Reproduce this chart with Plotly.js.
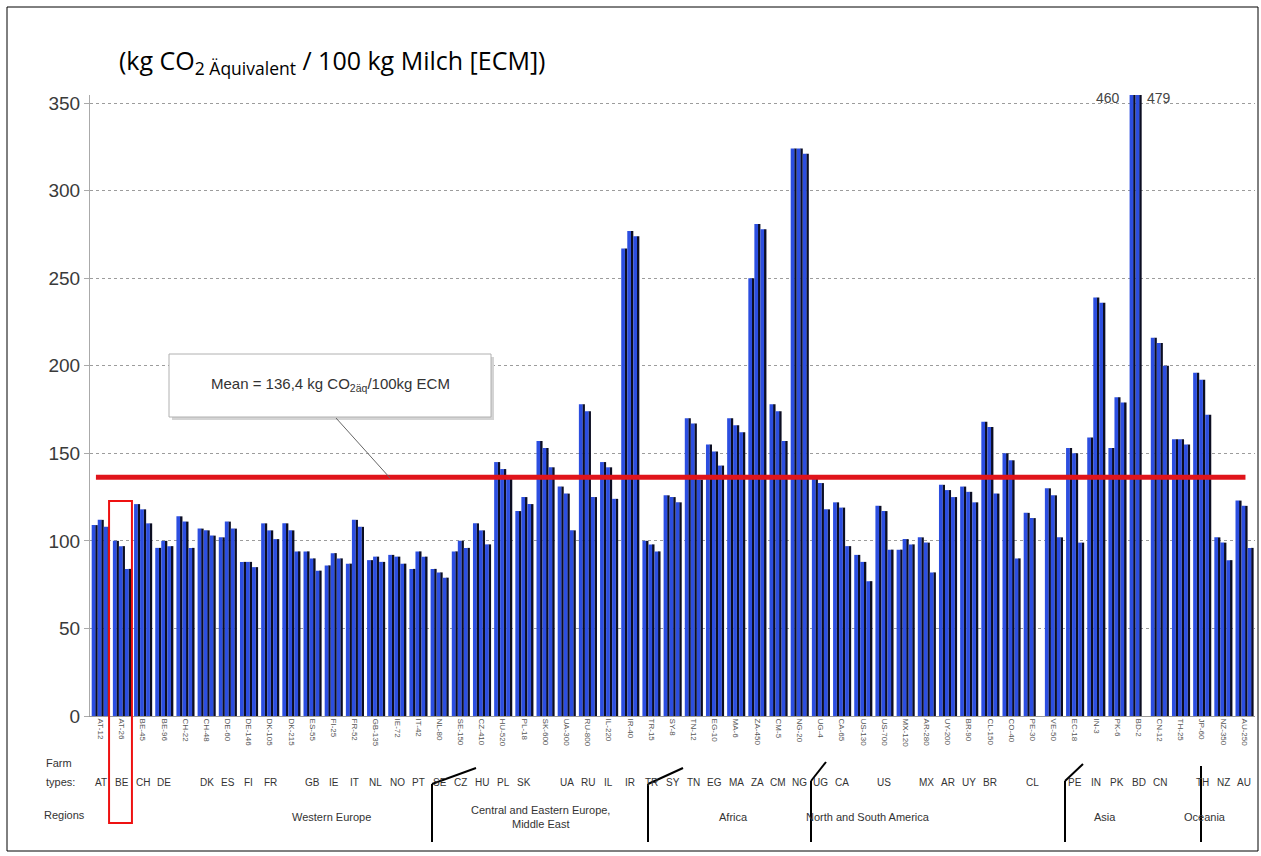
<!DOCTYPE html>
<html><head><meta charset="utf-8">
<script src="https://cdn.plot.ly/plotly-3.0.1.min.js"></script>
<style>html,body{margin:0;padding:0;background:#fff}#chart{width:1261px;height:856px}</style>
</head><body><div id="chart"></div>
<script>
// ---- data ----
const farmIds = [
 "AT-12","AT-26","BE-45","BE-96","CH-22","CH-48","DE-60","DE-146","DK-105","DK-215",
 "ES-55","FI-25","FR-52","GB-135","IE-72","IT-42","NL-80","SE-150",
 "CZ-410","HU-520","PL-18","SK-600","UA-300","RU-800","IL-220","IR-40","TR-15","SY-8",
 "TN-12","EG-10","MA-6","ZA-450","CM-5","NG-20","UG-4",
 "CA-65","US-130","US-700","MX-120","AR-280","UY-200","BR-90","CL-150","CO-40","PE-30","VE-50","EC-18",
 "IN-3","PK-6","BD-2","CN-12","TH-25","JP-60",
 "NZ-350","AU-250"
];
const farmTypeA = [109,100,121,96,114,107,102,88,110,110,94,86,87,89,92,84,84,94,
  110,145,117,157,131,178,145,267,100,126,
  170,155,170,250,178,324,137,
  122,92,120,95,102,132,131,168,150,116,130,153,
  159,153,460,216,158,196,
  102,123];
const farmTypeB = [112,97,118,100,111,106,111,88,106,106,90,93,112,91,91,94,82,100,
  106,141,125,153,127,174,142,277,98,125,
  167,151,166,281,174,324,133,
  119,88,117,101,99,129,128,165,146,113,126,150,
  239,182,479,213,158,192,
  99,120];
const farmTypeC = [108,84,110,97,96,103,107,85,101,94,83,90,108,88,87,91,79,96,
  98,137,121,142,106,125,124,274,94,122,
  135,143,162,278,157,321,118,
  97,77,95,98,82,125,122,127,90,null,102,99,
  236,179,null,200,155,172,
  89,96];
const farmTypeCodes = ["AT","BE","CH","DE","","DK","ES","FI","FR","","GB","IE","IT","NL","NO","PT","SE","CZ",
  "HU","PL","SK","","UA","RU","IL","IR","TR","SY",
  "TN","EG","MA","ZA","CM","NG","UG",
  "CA","","US","","MX","AR","UY","BR","","CL","","PE",
  "IN","PK","BD","CN","","TH",
  "NZ","AU"];
const regionNames = ["Western Europe","Central and Eastern Europe,<br>Middle East","Africa","North and South America","Asia","Oceania"];
const regionCenterPx = [290,540,733,932,1118,1228];
const meanValue = 136.4;
const outlierLabels = ["460","479"];
const yTickVals = [0,50,100,150,200,250,300,350];
</script>
<script>
// ---- geometry helpers (plot area in pixels) ----
const W=1261,H=856,L=90,R=1255,T=95,B=716;
const px=x=>(x-L)/(R-L);
const py=y=>(B-y)/(B-T);
const ids = farmIds;
const series=[farmTypeA,farmTypeB,farmTypeC];
const slot=0.285, start=-0.42, blueW=0.175, darkW=0.12;
const traces=[];
series.forEach((vals,s)=>{
  const o=start+s*slot;
  traces.push({type:'bar',x:ids,y:vals,offset:o+blueW-0.01,width:darkW,
    marker:{color:'#0c0e22',line:{width:0}},hoverinfo:'skip',showlegend:false});
  traces.push({type:'bar',x:ids,y:vals,offset:o,width:blueW,
    marker:{color:'#2c4ee0',line:{width:0}},showlegend:false});
});

const shapes=[];
const annotations=[];
// frame
shapes.push({type:'rect',xref:'paper',yref:'paper',x0:px(7),x1:px(1258),y0:py(7),y1:py(851),line:{color:'#000',width:1},fillcolor:'rgba(0,0,0,0)',layer:'below'});
// mean line
shapes.push({type:'line',xref:'x',yref:'y',x0:-0.22,x1:54.05,y0:meanValue,y1:meanValue,line:{color:'#e0141b',width:5}});
// mean box + pointer
shapes.push({type:'rect',xref:'paper',yref:'paper',x0:px(172),x1:px(494),y0:py(357),y1:py(420),line:{width:0},fillcolor:'#d4d4d4'});
shapes.push({type:'rect',xref:'paper',yref:'paper',x0:px(169),x1:px(491),y0:py(354),y1:py(417),line:{color:'#b0b0b0',width:1},fillcolor:'#ffffff'});
shapes.push({type:'line',xref:'paper',yref:'paper',x0:px(336),y0:py(418),x1:px(390),y1:py(478),line:{color:'#666',width:1}});
// red highlight box
shapes.push({type:'rect',xref:'x',yref:'paper',x0:0.4,x1:1.48,y0:py(501),y1:py(823),line:{color:'#ee1111',width:2},fillcolor:'rgba(0,0,0,0)'});
// region separators
[[476,768,432,784],[683,768,648,784],[826,762,811,781],[1083,764,1065,781]].forEach(s=>{
  shapes.push({type:'line',xref:'paper',yref:'paper',x0:px(s[0]),y0:py(s[1]),x1:px(s[2]),y1:py(s[3]),line:{color:'#000',width:2}});
  shapes.push({type:'line',xref:'paper',yref:'paper',x0:px(s[2]),y0:py(s[3]),x1:px(s[2]),y1:py(842),line:{color:'#000',width:2}});
});
shapes.push({type:'line',xref:'paper',yref:'paper',x0:px(1201),y0:py(766),x1:px(1201),y1:py(842),line:{color:'#000',width:2}});

// title
annotations.push({xref:'paper',yref:'paper',x:px(117),y:py(62),xanchor:'left',yanchor:'middle',showarrow:false,
  text:'(kg CO<sub>2 Äquivalent</sub> / 100 kg Milch [ECM])',font:{family:'Open Sans, Lato, sans-serif',size:25,color:'#000'}});
// mean text
annotations.push({xref:'paper',yref:'paper',x:px(330),y:py(384),xanchor:'center',yanchor:'middle',showarrow:false,
  text:'Mean = 136,4 kg CO<sub>2äq</sub>/100kg ECM',font:{family:'Liberation Sans Narrow, Liberation Sans, sans-serif',size:15,color:'#333'}});
// outlier labels
const outIdx = farmTypeA.indexOf(460);
annotations.push({xref:'x',yref:'paper',x:ids[outIdx],xshift:-31,y:py(88),showarrow:false,text:outlierLabels[0],font:{family:'Liberation Sans',size:14,color:'#444'}});
annotations.push({xref:'x',yref:'paper',x:ids[outIdx],xshift:20,y:py(88),showarrow:false,text:outlierLabels[1],font:{family:'Liberation Sans',size:14,color:'#444'}});
// row labels
const smallFont={family:'Liberation Sans Narrow, Liberation Sans, sans-serif',size:11,color:'#333'};
annotations.push({xref:'paper',yref:'paper',x:px(44),y:py(771),xanchor:'left',showarrow:false,text:'Farm',font:smallFont});
annotations.push({xref:'paper',yref:'paper',x:px(44),y:py(790),xanchor:'left',showarrow:false,text:'types:',font:smallFont});
annotations.push({xref:'paper',yref:'paper',x:px(42),y:py(823),xanchor:'left',showarrow:false,text:'Regions',font:smallFont});
farmTypeCodes.forEach((c,i)=>{ if(c) annotations.push({xref:'x',yref:'paper',x:ids[i],y:py(790),showarrow:false,text:c,font:{family:'Liberation Sans Narrow, Liberation Sans, sans-serif',size:10,color:'#333'}}); });
regionNames.forEach((r,i)=>{
  const two=r.indexOf('<br>')>=0;
  annotations.push({xref:'paper',yref:'paper',x:px(regionCenterPx[i]),y:py(two?832:825),showarrow:false,text:r,font:smallFont});
});

const layout={
  width:W,height:H,margin:{l:L,r:W-R,t:T,b:H-B,pad:0},
  paper_bgcolor:'#fff',plot_bgcolor:'#fff',
  barmode:'overlay',showlegend:false,
  xaxis:{type:'category',range:[-0.5,ids.length-0.5],showline:true,linecolor:'#999',ticks:'',
    tickangle:90,tickfont:{family:'Liberation Sans Narrow, Liberation Sans, sans-serif',size:8,color:'#555'},showgrid:false,fixedrange:true},
  yaxis:{range:[0,354.6],tickvals:yTickVals,showgrid:true,gridcolor:'#9c9c9c',griddash:'dot',gridwidth:1,zeroline:false,
    showline:true,linecolor:'#aaa',ticks:'outside',ticklen:5,tickcolor:'#aaa',
    tickfont:{family:'Liberation Sans, Arial, sans-serif',size:19,color:'#3a3a3a'}},
  shapes:shapes,annotations:annotations
};
Plotly.newPlot('chart',traces,layout,{displayModeBar:false,staticPlot:true});
</script>
</body></html>
